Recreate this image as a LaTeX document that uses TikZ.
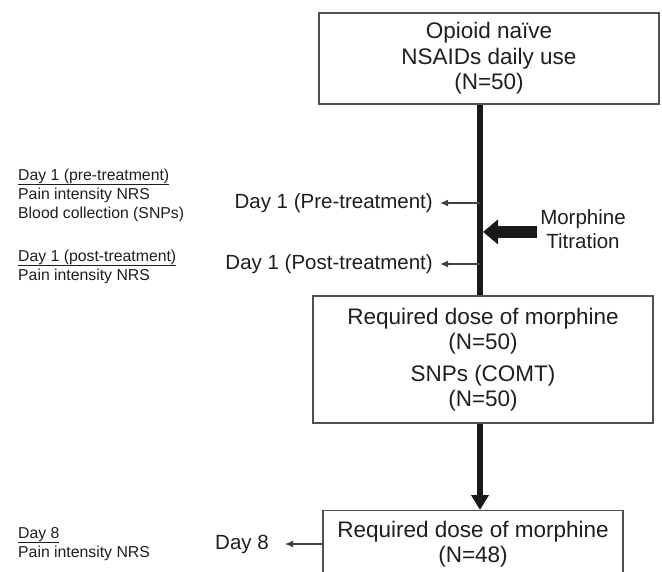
\documentclass[tikz,border=0pt]{standalone}
\usepackage{fontspec}
\setmainfont{Liberation Sans}
\usetikzlibrary{arrows.meta,calc,positioning}
\definecolor{ink}{HTML}{1E1E1E}
\definecolor{frame}{HTML}{505050}
\tikzset{
  box/.style={rectangle, draw=frame, line width=1.3pt, align=center, text=ink, font=\fontsize{22.5}{25.5}\selectfont, inner sep=0pt},
  side/.style={text=ink, font=\fontsize{20.5}{23.5}\selectfont, inner ysep=0pt, inner xsep=7pt},
  note/.style={text=ink, align=left, font=\fontsize{15.8}{19}\selectfont, inner sep=0pt, anchor=base west},
  spine/.style={line width=6pt, draw=black!90},
  tick/.style={draw=ink!85, line width=1.2pt, -{Latex[length=8pt,width=7pt]}},
  fat/.style={line width=12pt, draw=black!90, -{Triangle[length=15pt,width=24pt]}},
  down/.style={line width=6pt, draw=black!90, -{Triangle[length=15pt,width=17pt]}}
}
\begin{document}
\begin{tikzpicture}[x=1pt,y=-1pt]
  \useasboundingbox (0,0) rectangle (662,571);
  \clip (0,0) rectangle (662,571);
  \coordinate (axis) at (480,0);
  % boxes
  \node(start) [box, minimum width=340pt, minimum height=91pt] at (489,58.5) {Opioid naïve\\NSAIDs daily use\\(N=50)};
  \node(dose1) [box, minimum width=340pt, minimum height=127pt] at (483,359.5) {Required dose of morphine\\(N=50)\\[6pt]SNPs (COMT)\\(N=50)};
  \node(dose8) [box, minimum width=300pt, inner ysep=10.5pt, anchor=north] at (473,510) {Required dose of morphine\\(N=48)};
  \draw[spine] (start.south -| axis) -- (dose1.north -| axis);
  \draw[down] (dose1.south -| axis) -- (dose8.north -| axis);
  % time points
  \node(pre) [side, anchor=east] at (440,203) {Day 1 (Pre-treatment)};
  \node(post) [side, anchor=east] at (440,264) {Day 1 (Post-treatment)};
  \node(day8) [side, anchor=east, inner xsep=16pt] at (285,544) {Day 8};
  \draw[tick] (pre.east -| axis) -- (pre.east);
  \draw[tick] (post.east -| axis) -- (post.east);
  \draw[tick] (day8.east -| dose8.west) -- (day8.east);
  \node(morph) [side, align=center, inner xsep=3pt, anchor=base] at (583,248) {Morphine\\Titration};
  \draw[fat] ($(morph.west)+(0,3)$) -- ($(morph.west -| axis)+(3,3)$);
  % assessments
  \node(prenote) [note] at (18,218) {\underline{Day 1 (pre-treatment)}\\Pain intensity NRS\\Blood collection (SNPs)};
  \node(postnote) [note] at (18,280) {\underline{Day 1 (post-treatment)}\\Pain intensity NRS};
  \node(daynote) [note] at (18,557) {\underline{Day 8}\\Pain intensity NRS};
\end{tikzpicture}
\end{document}
